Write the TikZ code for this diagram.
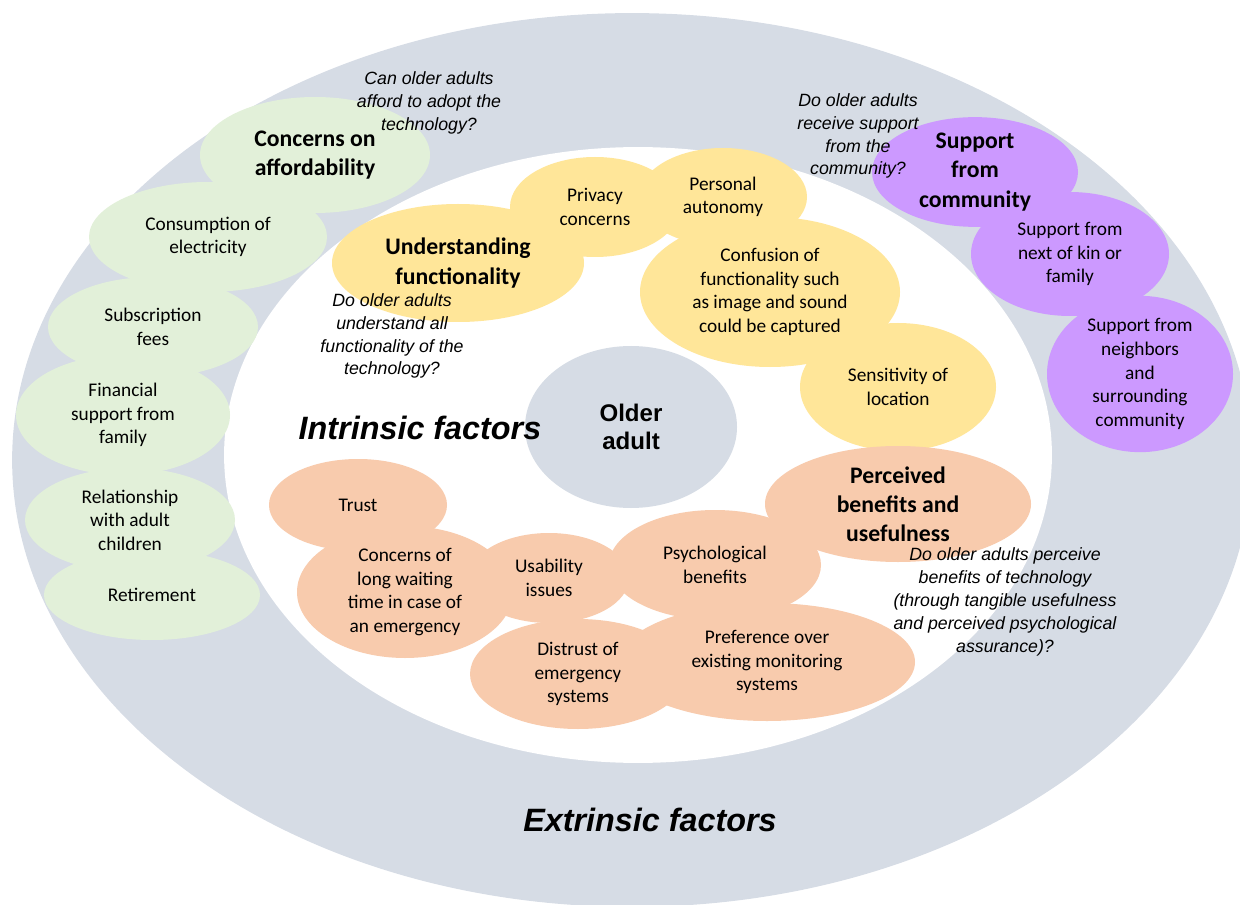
\documentclass[tikz,border=0pt]{standalone}
\usepackage{fontspec}
\setmainfont{Carlito}
\newfontfamily\qfont{Liberation Sans}
\usetikzlibrary{shapes.geometric}

\definecolor{ringgrey}{HTML}{D6DCE5}
\definecolor{leafgreen}{HTML}{E2F0D9}
\definecolor{sunyellow}{HTML}{FFE699}
\definecolor{peach}{HTML}{F8CBAD}
\definecolor{lilac}{HTML}{CC99FF}

\tikzset{
  oval/.style 2 args={minimum width=#1*0.02cm, minimum height=#2*0.02cm},
  factor/.style={ellipse, inner sep=0pt, align=center, font=\fontsize{11}{13.4}\selectfont},
  head/.style={factor, font=\bfseries\fontsize{13.5}{16.6}\selectfont},
  ask/.style={inner sep=0pt, align=center, font=\qfont\itshape\fontsize{10.1}{13}\selectfont},
  zone/.style={inner sep=0pt, font=\qfont\bfseries\itshape\fontsize{18.4}{22}\selectfont}
}

\begin{document}
\begin{tikzpicture}[x=0.02cm, y=-0.02cm]

  \useasboundingbox (0,0) rectangle (1240,905);
  \clip (0,0) rectangle (1240,905);

  % rings
  \fill[ringgrey] (632,460) ellipse [x radius=12.4cm, y radius=8.94cm];
  \fill[white] (638,455) ellipse [x radius=8.28cm, y radius=6.16cm];

  % extrinsic: affordability
  \node[head, fill=leafgreen, oval={230}{116}] (afford) at (315,155) {Concerns on\\affordability};
  \node[factor, fill=leafgreen, oval={238}{110}] (electricity) at (208,237) {Consumption of\\electricity};
  \node[factor, fill=leafgreen, oval={210}{100}] (subscr) at (153,327) {Subscription\\fees};
  \node[factor, fill=leafgreen, oval={214}{120}] (famsupport) at (123,415) {Financial\\support from\\family};
  \node[factor, fill=leafgreen, oval={216}{90}] (retire) at (152,595) {Retirement};
  \node[factor, fill=leafgreen, oval={210}{104}] (adultkids) at (130,520) {Relationship\\with adult\\children};

  % extrinsic: community
  \node[factor, fill=lilac, oval={198}{124}] (kin) at (1070,254) {Support from\\next of kin or\\family};
  \node[factor, fill=lilac, oval={186}{154}] (neighbors) at (1140,374) {Support from\\neighbors\\and\\surrounding\\community};
  \node[head, fill=lilac, oval={206}{106}] (community) at (975,172) {Support\\from\\community};

  % intrinsic: functionality
  \node[factor, fill=sunyellow, oval={170}{100}] (privacy) at (595,207) {Privacy\\concerns};
  \node[factor, fill=sunyellow, oval={168}{98}] (autonomy) at (723,197) {Personal\\autonomy};
  \node[head, fill=sunyellow, oval={252}{118}] (understand) at (458,263) {Understanding\\functionality};
  \node[factor, fill=sunyellow, oval={196}{128}] (location) at (898,387) {Sensitivity of\\location};
  \node[factor, fill=sunyellow, oval={260}{150}] (confusion) at (770,292) {Confusion of\\functionality such\\as image and sound\\could be captured};

  % intrinsic: benefits
  \node[head, fill=peach, oval={266}{116}] (benefits) at (898,504) {Perceived\\benefits and\\usefulness};
  \node[factor, fill=peach, oval={178}{92}] (trust) at (358,505) {Trust};
  \node[factor, fill=peach, oval={216}{132}] (waiting) at (405,592) {Concerns of\\long waiting\\time in case of\\an emergency};
  \node[factor, fill=peach, oval={160}{90}] (usability) at (549,578) {Usability\\issues};
  \node[factor, fill=peach, oval={212}{110}] (psych) at (715,565) {Psychological\\benefits};
  \node[factor, fill=peach, oval={216}{110}] (distrust) at (578,674) {Distrust of\\emergency\\systems};
  \node[factor, fill=peach, oval={296}{118}] (preference) at (767,662) {Preference over\\existing monitoring\\systems};

  % centre
  \node[ellipse, fill=ringgrey, inner sep=0pt, oval={212}{162}, align=center,
        font=\qfont\bfseries\fontsize{13.7}{16}\selectfont] (older) at (631,427) {Older\\adult};

  % questions
  \node[ask] (qafford) at (429,103) {Can older adults\\afford to adopt the\\technology?};
  \node[ask] (qunderstand) at (392,336) {Do older adults\\understand all\\functionality of the\\technology?};
  \node[ask] (qcommunity) at (858,136) {Do older adults\\receive support\\from the\\community?};
  \node[ask] (qbenefits) at (1005,602) {Do older adults perceive\\benefits of technology\\(through tangible usefulness\\and perceived psychological\\assurance)?};

  \node[zone] (intrinsic) at (420,428) {Intrinsic factors};
  \node[zone] (extrinsic) at (650,820) {Extrinsic factors};

\end{tikzpicture}
\end{document}
